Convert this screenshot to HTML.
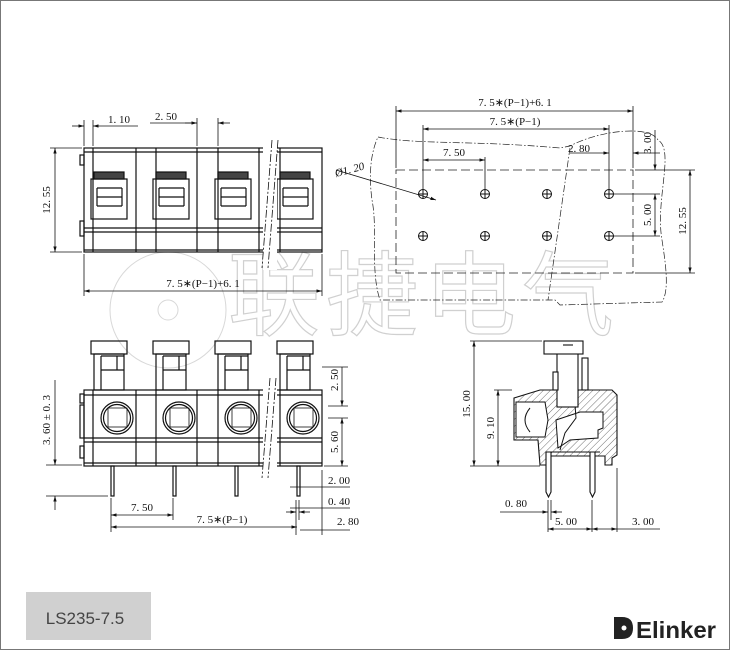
<!DOCTYPE html>
<html><head><meta charset="utf-8"><style>
html,body{margin:0;padding:0;background:#fff}
svg{display:block}
text{font-family:"Liberation Serif",serif;font-size:11px;fill:#111}
</style></head><body>
<svg width="730" height="650" viewBox="0 0 730 650" xmlns="http://www.w3.org/2000/svg">
<defs>
<marker id="a" viewBox="0 0 10 10" refX="10" refY="5" markerWidth="7" markerHeight="7" orient="auto-start-reverse"><path d="M0,2 L10,5 L0,8 z" fill="#111"/></marker>
<pattern id="h" width="5" height="5" patternUnits="userSpaceOnUse" patternTransform="rotate(45)"><line x1="0" y1="0" x2="0" y2="5" stroke="#333" stroke-width="0.7"/></pattern>
</defs>
<rect x="0.5" y="0.5" width="729" height="649" fill="none" stroke="#777"/>

<!-- watermark -->
<g fill="none" stroke="#d8d8d8" stroke-width="1">
<circle cx="168" cy="310" r="58"/>
<circle cx="168" cy="310" r="10"/>
</g>
<text x="228" y="328" style="font-family:'Noto Sans CJK SC',sans-serif;font-size:92px;letter-spacing:6px;fill:none;stroke:#d0d0d0;stroke-width:1.2">联捷电气</text>

<!-- TOP-LEFT VIEW -->
<g stroke="#111" fill="none" stroke-width="1.2">
<rect x="84" y="148" width="238" height="104"/>
<line x1="84" y1="152" x2="322" y2="152"/>
<line x1="84" y1="228" x2="322" y2="228"/>
<line x1="84" y1="232" x2="322" y2="232"/>
<line x1="84" y1="250" x2="322" y2="250"/>
<rect x="80" y="155" width="4" height="10"/><rect x="80" y="221" width="4" height="15"/>
<g id="vl"><line x1="93" y1="148" x2="93" y2="252"/><line x1="136" y1="148" x2="136" y2="252"/><line x1="156" y1="148" x2="156" y2="252"/><line x1="197" y1="148" x2="197" y2="252"/><line x1="218" y1="148" x2="218" y2="252"/><line x1="259" y1="148" x2="259" y2="252"/><line x1="280" y1="148" x2="280" y2="252"/></g>
<g id="win">
<rect x="91" y="179" width="36" height="40"/>
<rect x="94" y="172" width="30" height="7" fill="#444"/>
<line x1="97" y1="188" x2="122" y2="188"/><line x1="97" y1="197" x2="122" y2="197"/><line x1="97" y1="206" x2="122" y2="206"/><line x1="97" y1="188" x2="97" y2="206"/><line x1="122" y1="188" x2="122" y2="206"/>
</g>
<use href="#win" x="62"/><use href="#win" x="124"/><use href="#win" x="186"/>
</g>
<rect x="263" y="140" width="14" height="130" fill="#fff"/>
<g stroke="#111" stroke-width="0.8" stroke-dasharray="8,2,2,2" fill="none"><line x1="272" y1="140" x2="262" y2="268"/><line x1="278" y1="140" x2="268" y2="268"/></g>
<g stroke="#111" stroke-width="0.8" fill="none">
<line x1="84" y1="120" x2="84" y2="146"/><line x1="93" y1="120" x2="93" y2="146"/>
<line x1="72" y1="126" x2="84" y2="126" marker-end="url(#a)"/><line x1="138" y1="126" x2="93" y2="126" marker-end="url(#a)"/>
<line x1="197" y1="118" x2="197" y2="146"/><line x1="218" y1="118" x2="218" y2="146"/>
<line x1="150" y1="123" x2="197" y2="123"/><line x1="230" y1="123" x2="218" y2="123" marker-end="url(#a)"/><line x1="185" y1="123" x2="197" y2="123" marker-end="url(#a)"/>
<line x1="50" y1="148" x2="82" y2="148"/><line x1="50" y1="252" x2="82" y2="252"/>
<line x1="55" y1="148" x2="55" y2="252" marker-start="url(#a)" marker-end="url(#a)"/>
<line x1="84" y1="254" x2="84" y2="296"/><line x1="322" y1="254" x2="322" y2="296"/>
<line x1="84" y1="291" x2="322" y2="291" marker-start="url(#a)" marker-end="url(#a)"/>
</g>
<text x="108" y="123">1. 10</text><text x="155" y="120">2. 50</text>
<text transform="translate(50,200) rotate(-90)" text-anchor="middle">12. 55</text>
<text x="203" y="287" text-anchor="middle">7. 5∗(P−1)+6. 1</text>

<!-- TOP-RIGHT VIEW -->
<path d="M378,137 C420,145 470,140 560,148 L570,146 C600,130 650,125 658,140 C675,150 655,200 662,240 C665,260 670,290 662,302 L560,305 L555,300 L380,300 C370,270 378,230 372,200 C368,170 372,150 378,137 Z" fill="none" stroke="#222" stroke-width="0.7" stroke-dasharray="7,2,1.5,2"/>
<line x1="570" y1="148" x2="548" y2="300" stroke="#222" stroke-width="0.7" stroke-dasharray="7,2,1.5,2"/>
<rect x="396" y="170" width="237" height="103" fill="none" stroke="#222" stroke-width="0.8" stroke-dasharray="9,4"/>
<g fill="none" stroke="#111" stroke-width="1">
<g id="ho"><circle cx="423" cy="194" r="4.5"/><line x1="418" y1="194" x2="428" y2="194"/><line x1="423" y1="189" x2="423" y2="199"/></g>
<use href="#ho" x="62"/><use href="#ho" x="124"/><use href="#ho" x="186"/>
<use href="#ho" y="42"/><use href="#ho" x="62" y="42"/><use href="#ho" x="124" y="42"/><use href="#ho" x="186" y="42"/>
</g>
<g stroke="#111" stroke-width="0.8" fill="none">
<line x1="396" y1="106" x2="396" y2="168"/><line x1="633" y1="106" x2="633" y2="168"/>
<line x1="396" y1="111" x2="633" y2="111" marker-start="url(#a)" marker-end="url(#a)"/>
<line x1="423" y1="125" x2="423" y2="190"/><line x1="609" y1="125" x2="609" y2="190"/>
<line x1="423" y1="129" x2="609" y2="129" marker-start="url(#a)" marker-end="url(#a)"/>
<line x1="485" y1="157" x2="485" y2="190"/>
<line x1="423" y1="160" x2="485" y2="160" marker-start="url(#a)" marker-end="url(#a)"/>
<line x1="570" y1="153" x2="609" y2="153" marker-end="url(#a)"/><line x1="660" y1="153" x2="633" y2="153" marker-end="url(#a)"/>
<line x1="614" y1="194" x2="660" y2="194"/><line x1="614" y1="236" x2="660" y2="236"/>
<line x1="655" y1="130" x2="655" y2="170" marker-end="url(#a)"/>
<line x1="655" y1="194" x2="655" y2="236" marker-start="url(#a)" marker-end="url(#a)"/>
<line x1="635" y1="170" x2="695" y2="170"/><line x1="635" y1="273" x2="695" y2="273"/>
<line x1="690" y1="170" x2="690" y2="273" marker-start="url(#a)" marker-end="url(#a)"/>
<line x1="336" y1="170" x2="436" y2="200" marker-end="url(#a)"/>
</g>
<text x="515" y="106" text-anchor="middle">7. 5∗(P−1)+6. 1</text>
<text x="515" y="125" text-anchor="middle">7. 5∗(P−1)</text>
<text x="454" y="156" text-anchor="middle">7. 50</text>
<text x="568" y="152">2. 80</text>
<text transform="translate(651,143) rotate(-90)" text-anchor="middle">3. 00</text>
<text transform="translate(651,215) rotate(-90)" text-anchor="middle">5. 00</text>
<text transform="translate(686,221) rotate(-90)" text-anchor="middle">12. 55</text>
<text transform="translate(336,177) rotate(-15)" font-style="italic">Ø1. 20</text>

<!-- BOTTOM-LEFT VIEW -->
<g stroke="#111" fill="none" stroke-width="1.2">
<g id="tm">
<rect x="91" y="341" width="36" height="13"/>
<rect x="94" y="354" width="30" height="36"/>
<line x1="101" y1="356" x2="101" y2="390"/><line x1="117" y1="356" x2="117" y2="370"/><line x1="101" y1="356" x2="124" y2="356"/><line x1="101" y1="370" x2="124" y2="370"/>
<circle cx="117" cy="418" r="16"/><circle cx="117" cy="418" r="13.5"/>
<rect x="108" y="408" width="19" height="19" stroke-width="0.8"/>
<rect x="111" y="466" width="3" height="30"/>
</g>
<use href="#tm" x="62"/><use href="#tm" x="124"/><use href="#tm" x="186"/>
<rect x="84" y="390" width="238" height="76"/>
<line x1="84" y1="395" x2="322" y2="395"/><line x1="84" y1="438" x2="322" y2="438"/><line x1="84" y1="442" x2="322" y2="442"/><line x1="84" y1="463" x2="322" y2="463"/>
<line x1="93" y1="390" x2="93" y2="466"/><line x1="136" y1="390" x2="136" y2="466"/><line x1="156" y1="390" x2="156" y2="466"/><line x1="197" y1="390" x2="197" y2="466"/><line x1="218" y1="390" x2="218" y2="466"/><line x1="259" y1="390" x2="259" y2="466"/><line x1="280" y1="390" x2="280" y2="466"/>
<rect x="80" y="394" width="4" height="9"/><rect x="80" y="405" width="4" height="33"/><rect x="80" y="446" width="4" height="12"/>
</g>
<rect x="263" y="380" width="14" height="100" fill="#fff"/>
<g stroke="#111" stroke-width="0.8" stroke-dasharray="8,2,2,2" fill="none"><line x1="270" y1="378" x2="262" y2="478"/><line x1="276" y1="378" x2="268" y2="478"/></g>
<g stroke="#111" stroke-width="0.8" fill="none">
<line x1="46" y1="465" x2="82" y2="465"/><line x1="46" y1="496" x2="108" y2="496"/>
<line x1="55" y1="380" x2="55" y2="465" marker-end="url(#a)"/><line x1="55" y1="510" x2="55" y2="496" marker-end="url(#a)"/>
<line x1="322" y1="367" x2="348" y2="367"/><line x1="328" y1="406" x2="348" y2="406"/><line x1="328" y1="418" x2="348" y2="418"/><line x1="324" y1="466" x2="348" y2="466"/>
<line x1="342" y1="367" x2="342" y2="406" marker-end="url(#a)"/><line x1="342" y1="418" x2="342" y2="466" marker-start="url(#a)" marker-end="url(#a)"/>
<line x1="290" y1="487" x2="350" y2="487"/><line x1="290" y1="508" x2="350" y2="508"/><line x1="300" y1="530" x2="350" y2="530"/>
<line x1="322" y1="470" x2="322" y2="535"/>
<line x1="296" y1="500" x2="296" y2="535"/><line x1="299" y1="500" x2="299" y2="520"/>
<line x1="111" y1="498" x2="111" y2="532"/><line x1="173" y1="498" x2="173" y2="520"/>
<line x1="111" y1="515" x2="173" y2="515" marker-start="url(#a)" marker-end="url(#a)"/>
<line x1="111" y1="527" x2="297" y2="527" marker-start="url(#a)" marker-end="url(#a)"/>
<line x1="286" y1="512" x2="296" y2="512" marker-end="url(#a)"/><line x1="310" y1="512" x2="299" y2="512" marker-end="url(#a)"/>
</g>
<text transform="translate(50,420) rotate(-90)" text-anchor="middle">3. 60 ± 0. 3</text>
<text transform="translate(338,380) rotate(-90)" text-anchor="middle">2. 50</text>
<text transform="translate(338,442) rotate(-90)" text-anchor="middle">5. 60</text>
<text x="328" y="484">2. 00</text><text x="328" y="505">0. 40</text><text x="337" y="525">2. 80</text>
<text x="142" y="511" text-anchor="middle">7. 50</text>
<text x="222" y="523" text-anchor="middle">7. 5∗(P−1)</text>

<!-- BOTTOM-RIGHT SIDE VIEW -->
<path d="M514,398 L540,390 L558,390 L558,405 L578,405 L578,390 L612,390 L617,395 L617,455 L612,458 L612,465 L605,465 L605,456 L550,456 L548,465 L540,465 L538,440 L514,440 Z" fill="url(#h)" stroke="#111" stroke-width="1.1"/>
<path d="M516,402 L545,402 L548,420 L545,437 L516,437 Z" fill="#fff" stroke="#111" stroke-width="1"/>
<path d="M530,408 Q520,420 530,432" fill="none" stroke="#111"/>
<path d="M580,412 L603,412 L603,428 L598,430 L598,438 L570,440 L558,448 L556,420 Z" fill="#fff" stroke="#111"/>
<path d="M558,405 L575,405 L576,418 L565,433 L560,450" fill="none" stroke="#111" stroke-width="1"/>
<g stroke="#111" fill="#fff" stroke-width="1.1">
<rect x="557" y="353" width="21" height="54"/>
<rect x="544" y="341" width="39" height="13"/>
<line x1="563" y1="345" x2="573" y2="345"/>
<rect x="582" y="358" width="6" height="32"/>
<rect x="553" y="372" width="5" height="18"/>
<path d="M546,452 L551,452 L551,492 L548.5,497 L546,492 Z"/>
<path d="M590,452 L595,452 L595,492 L592.5,497 L590,492 Z"/>
<line x1="546" y1="452" x2="600" y2="452"/>
</g>
<g stroke="#111" stroke-width="0.8" fill="none">
<line x1="470" y1="341" x2="542" y2="341"/><line x1="470" y1="466" x2="540" y2="466"/><line x1="494" y1="390" x2="512" y2="390"/>
<line x1="474" y1="341" x2="474" y2="466" marker-start="url(#a)" marker-end="url(#a)"/>
<line x1="498" y1="390" x2="498" y2="466" marker-start="url(#a)" marker-end="url(#a)"/>
<line x1="548" y1="500" x2="548" y2="532"/><line x1="551" y1="500" x2="551" y2="520"/><line x1="592" y1="500" x2="592" y2="532"/><line x1="617" y1="468" x2="617" y2="532"/>
<line x1="500" y1="512" x2="548" y2="512" marker-end="url(#a)"/><line x1="562" y1="512" x2="551" y2="512" marker-end="url(#a)"/>
<line x1="548" y1="529" x2="592" y2="529" marker-start="url(#a)" marker-end="url(#a)"/>
<line x1="592" y1="529" x2="617" y2="529" marker-start="url(#a)" marker-end="url(#a)"/>
<line x1="617" y1="529" x2="660" y2="529"/>
</g>
<text transform="translate(470,404) rotate(-90)" text-anchor="middle">15. 00</text>
<text transform="translate(494,428) rotate(-90)" text-anchor="middle">9. 10</text>
<text x="505" y="507">0. 80</text><text x="555" y="525">5. 00</text><text x="632" y="525">3. 00</text>

<!-- footer -->
<rect x="26" y="592" width="125" height="48" fill="#d0d0d0"/>
<text x="85" y="624" text-anchor="middle" style="font-family:'Liberation Sans',sans-serif;font-size:17px;fill:#444">LS235-7.5</text>
<path d="M614,617 L622,617 Q633,617 633,628 Q633,639 622,639 L614,639 Z" fill="#222"/>
<circle cx="624" cy="628" r="2.5" fill="#fff"/>
<text x="636" y="638" style="font-family:'Liberation Sans',sans-serif;font-size:23px;font-weight:bold;fill:#222" textLength="80" lengthAdjust="spacingAndGlyphs">Elinker</text>
</svg>
</body></html>
